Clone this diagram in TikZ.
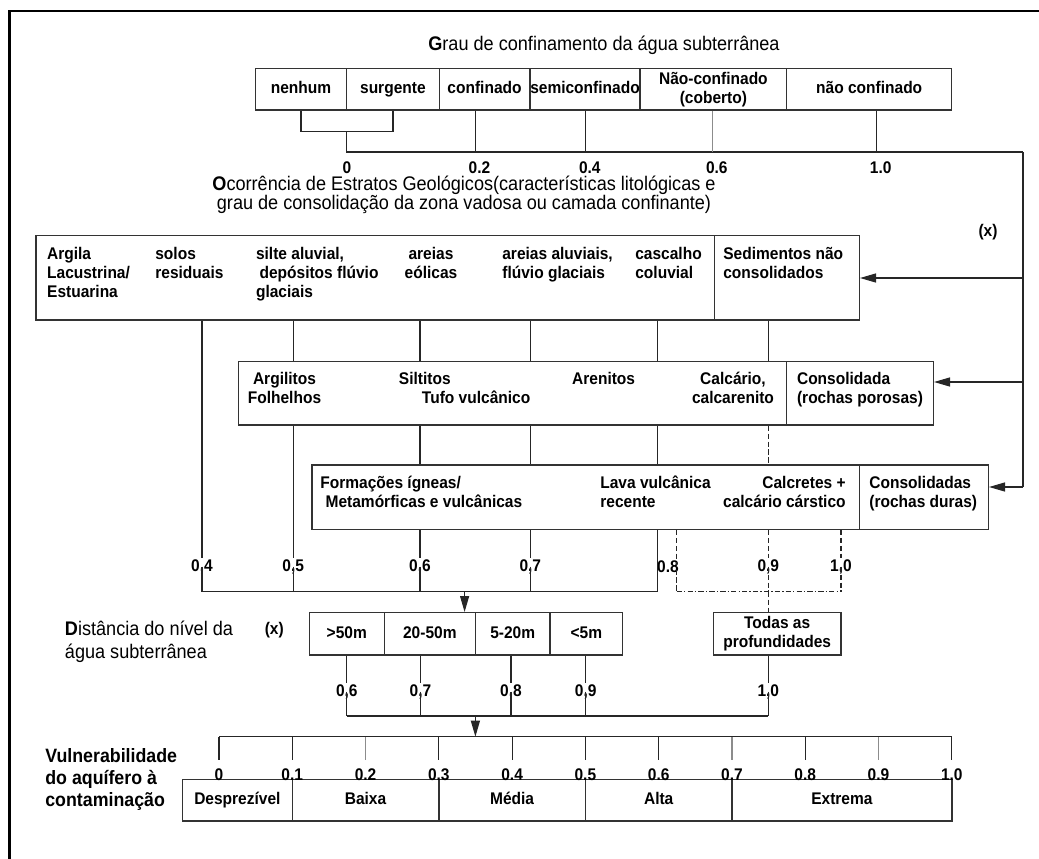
\documentclass[tikz,border=0pt]{standalone}
\usepackage{fontspec}
\setmainfont{Liberation Sans}[FakeStretch=0.92]
\usetikzlibrary{arrows.meta,fit}

\newcommand\lblfont{\fontsize{9.6}{10.8}\selectfont\bfseries}
\newcommand\ttlfont{\fontsize{11.2}{10.8}\selectfont}
\newcommand\vulfont{\fontsize{11}{12.8}\selectfont\bfseries}

\begin{document}
\begin{tikzpicture}[x=0.02cm, y=-0.02cm,
  cell/.style={draw=black!80, line width=0.8pt, inner sep=0pt},
  celltxt/.style={font=\lblfont, inner sep=0pt, text height=7pt, text depth=2pt},
  celltwo/.style={font=\lblfont, inner sep=0pt, align=center},
  txt/.style={inner sep=0pt, anchor=north west, align=left, font=\lblfont},
  num/.style={inner sep=0.5pt, font=\lblfont},
  ln/.style={draw=black!85, line width=0.7pt},
  lng/.style={draw=black!45, line width=0.7pt},
  dsh/.style={ln, dash pattern=on 3pt off 1.5pt},
  dshdot/.style={ln, dash pattern=on 3pt off 1.2pt on 0.8pt off 1.2pt},
  arr/.style={ln, -{Triangle[length=0.32cm, width=0.18cm]}}]
\useasboundingbox (0,0) rectangle (1039,859);
\draw[line width=1.7pt] (9.5,870) |- (1050,11);

% grau de confinamento
\node[font=\ttlfont] (tgrau) at (604,45) {\textbf{G}rau de confinamento da água subterrânea};
\node[cell, fit={(255.5,68.3) (346.6,110)}, label={[celltxt]center:nenhum}] (nenhum) {};
\node[cell, fit={(346.6,68.3) (439.2,110)}, label={[celltxt]center:surgente}] (surgente) {};
\node[cell, fit={(439.2,68.3) (529.9,110)}, label={[celltxt]center:confinado}] (confinado) {};
\node[cell, fit={(529.9,68.3) (640.1,110)}, label={[celltxt]center:semiconfinado}] (semiconf) {};
\node[cell, fit={(640.1,68.3) (786.7,110)}, label={[celltwo]center:Não-confinado\\(coberto)}] (naocob) {};
\node[cell, fit={(786.7,68.3) (951.7,110)}, label={[celltxt]center:não confinado}] (naoconf) {};

\coordinate (g0) at (346.6,152);
\coordinate (rc) at (1023,152);
\draw[ln] (nenhum.south) -- ++(0,21) coordinate (brk) -| (surgente.south);
\draw[ln] (brk -| g0) -- (g0) -- (rc);
\node[num] (l0) at (347,168) {0};
\foreach \c/\n/\x/\t/\s in {confinado/02/475.5/0.2/ln, semiconf/04/585.8/0.4/ln,
    naocob/06/712.8/0.6/lng, naoconf/10/876.7/1.0/ln}{
  \coordinate (g\n) at (\x,152);
  \draw[\s] (\c.south -| g\n) -- (g\n);
  \node[num] (l\n) at (\x+4,168) {\t};
}

% estratos geologicos
\node[font=\ttlfont, align=center] (tocor) at (464,195)
  {\textbf{O}corrência de Estratos Geológicos(características litológicas e\\grau de consolidação da zona vadosa ou camada confinante)};
\node[num] (x1) at (988,232) {(x)};

\node[cell, fit={(36,235.7) (714.3,320)}] (sed) {};
\node[cell, fit={(714.3,235.7) (859.3,320)}] (sednc) {};
\node[txt] (argila) at (46.8,247) {Argila\\Lacustrina/\\Estuarina};
\node[txt] (solos) at (155,247) {solos\\residuais};
\node[txt] (silte) at (255.7,247) {silte aluvial,\\\hspace*{2pt}depósitos flúvio\\glaciais};
\node[txt, anchor=north, align=center] (eolicas) at (431,247) {areias\\eólicas};
\node[txt] (aluviais) at (502,247) {areias aluviais,\\flúvio glaciais};
\node[txt] (cascalho) at (635,247) {cascalho\\coluvial};
\node[txt] (sedtxt) at (723,247) {Sedimentos não\\consolidados};

\node[cell, fit={(238.6,361.7) (786.7,425)}] (cons) {};
\node[cell, fit={(786.7,361.7) (933.3,425)}] (conspor) {};
\node[txt, anchor=north, align=center] (argilitos) at (284.5,371.5) {Argilitos\\Folhelhos};
\node[txt] (siltitos) at (398.6,371.5) {Siltitos\\\hspace*{0.46cm}Tufo vulcânico};
\node[txt] (arenitos) at (571.8,371.5) {Arenitos};
\node[txt, anchor=north, align=center] (calcario) at (733,371.5) {Calcário,\\calcarenito};
\node[txt] (constxt) at (796.7,371.5) {Consolidada\\(rochas porosas)};

\node[cell, fit={(312,465) (859.3,529.3)}] (ign) {};
\node[cell, fit={(859.3,465) (988.3,529.3)}] (consdur) {};
\node[txt] (formacoes) at (320,476) {Formações ígneas/\\\hspace*{3pt}Metamórficas e vulcânicas};
\node[txt] (lava) at (600,476) {Lava vulcânica\\recente};
\node[txt, anchor=north east, align=right] (calcretes) at (846,476) {Calcretes +\\calcário cárstico};
\node[txt] (cdtxt) at (869,476) {Consolidadas\\(rochas duras)};

\coordinate (r1) at (1023,278);
\coordinate (r2) at (1023,382);
\coordinate (r3) at (1023,487);
\draw[ln] (rc) -- (r3);
\draw[arr] (r1) -- (r1 -| sednc.east);
\draw[arr] (r2) -- (r2 -| conspor.east);
\draw[arr] (r3) -- (r3 -| consdur.east);

\foreach \n/\x/\t in {04/202/{0,4}, 05/293.2/{0,5}, 06/420/{0,6}, 07/530.3/{0,7}, 09/768.3/{0,9}, 10/841/{1,0}}
  \node[num] (e\n) at (\x,566.7) {\t};
\node[num] (e08) at (668,566.7) {0.8};
\coordinate (v08) at (657.3,591.7);
\coordinate (d08) at (676.7,591.7);
\coordinate (ha) at (464.6,591.7);

\foreach \n in {05,06,07,09} \draw[ln] (sed.south -| e\n) -- (cons.north -| e\n);
\draw[ln] (sed.south -| v08) -- (cons.north -| v08);
\foreach \n in {06,07} \draw[ln] (cons.south -| e\n) -- (ign.north -| e\n);
\draw[ln] (cons.south -| v08) -- (ign.north -| v08);
\draw[dsh] (cons.south -| e09) -- (ign.north -| e09);

\draw[ln] (sed.south -| e04) -- (e04.north);
\draw[ln] (cons.south -| e05) -- (e05.north);
\foreach \n in {06,07} \draw[ln] (ign.south -| e\n) -- (e\n.north);
\foreach \n in {04,05,06,07} \draw[ln] (e\n.center) -- (e\n |- ha);
\draw[ln] (ign.south -| v08) -- (v08);
\draw[ln] (e04 |- ha) -- (v08);
\draw[dsh] (ign.south -| d08) -- (d08);
\foreach \n in {09,10} \draw[dsh] (ign.south -| e\n) -- (e\n.north) (e\n.center) -- (e\n |- ha);
\draw[dshdot] (d08) -- (e10 |- ha);

% distancia do nivel
\node[font=\fontsize{11.2}{13.1}\selectfont, align=left, anchor=west, inner sep=0pt] (tdist) at (64.6,641.7)
  {\textbf{D}istância do nível da\\água subterrânea};
\node[num] (x2) at (274.3,630) {(x)};
\node[cell, fit={(309.3,612.7) (384.3,655)}, label={[celltxt]center:>50m}] (d1) {};
\node[cell, fit={(384.3,612.7) (475.4,655)}, label={[celltxt]center:20-50m}] (d2) {};
\node[cell, fit={(475.4,612.7) (550,655)}, label={[celltxt]center:5-20m}] (d3) {};
\node[cell, fit={(550,612.7) (622.7,655)}, label={[celltxt]center:<5m}] (d4) {};
\node[cell, fit={(713.3,612.7) (841,655)}, label={[celltwo]center:Todas as\\profundidades}] (todas) {};
\draw[arr] (ha) -- (ha |- d2.north);
\draw[dsh] (e09 |- ha) -- (todas.north -| e09);

\coordinate (hb) at (475.4,716);
\foreach \c/\n/\x/\t in {d1/06/346.8/{0,6}, d2/07/420.5/{0,7}, d3/08/511/{0,8}, d4/09/585.7/{0,9}, todas/10/768.3/{1,0}}{
  \node[num] (f\n) at (\x,691.7) {\t};
  \draw[ln] (\c.south -| f\n) -- (f\n.north) (f\n.center) -- (f\n |- hb);
}
\draw[ln] (f06 |- hb) -- (f10 |- hb);

% vulnerabilidade
\foreach \i/\t/\s in {0/0/ln, 1/0.1/ln, 2/0.2/lng, 3/0.3/ln, 4/0.4/ln, 5/0.5/ln,
    6/0.6/ln, 7/0.7/lng, 8/0.8/ln, 9/0.9/lng, 10/1.0/ln}{
  \coordinate (t\i) at ({219+73.28*\i},736.7);
  \draw[\s] (t\i) -- ++(0,23.3);
}
\draw[ln] (t0) -- (t10);
\draw[arr] (hb) -- (hb |- t0);

\node[cell, fit={(182.5,779.3) (292.3,821)}, label={[celltxt]center:Desprezível}] (desp) {};
\node[cell, fit={(292.3,779.3) (438.8,821)}, label={[celltxt]center:Baixa}] (baixa) {};
\node[cell, fit={(438.8,779.3) (585.4,821)}, label={[celltxt]center:Média}] (media) {};
\node[cell, fit={(585.4,779.3) (732,821)}, label={[celltxt]center:Alta}] (alta) {};
\node[cell, fit={(732,779.3) (951.8,821)}, label={[celltxt]center:Extrema}] (extrema) {};
\foreach \i/\t in {0/0, 1/0.1, 2/0.2, 3/0.3, 4/0.4, 5/0.5, 6/0.6, 7/0.7, 8/0.8, 9/0.9, 10/1.0}
  \node[num] (s\i) at ({219+73.28*\i},775) {\t};

\node[font=\vulfont, align=left, anchor=west, inner sep=0pt] (tvul) at (45,779.5)
  {Vulnerabilidade\\do aquífero à\\contaminação};
\end{tikzpicture}
\end{document}
